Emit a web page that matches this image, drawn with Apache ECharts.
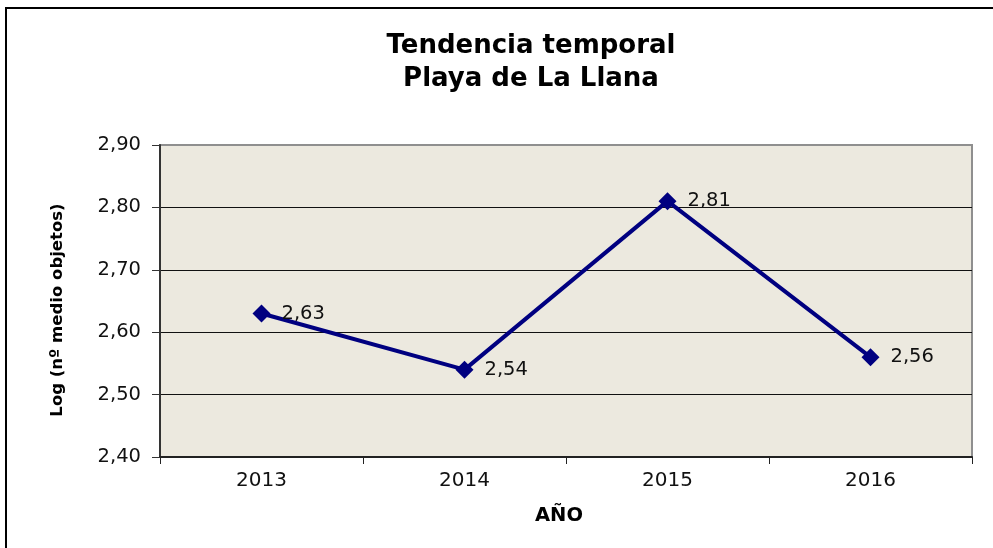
<!DOCTYPE html>
<html>
<head>
<meta charset="utf-8">
<script src="https://cdn.jsdelivr.net/npm/echarts@6/dist/echarts.min.js"></script>
<style>
  html, body { margin: 0; padding: 0; background: #fff; }
  #chart { width: 993px; height: 548px; }
</style>
</head>
<body>
<div id="chart"></div>
<script>
// Años y logaritmo del número medio de objetos
const years = ['2013', '2014', '2015', '2016'];
const logValues = [2.63, 2.54, 2.81, 2.56];
const yTicks = [2.40, 2.50, 2.60, 2.70, 2.80, 2.90];

const FONT = '"DejaVu Sans", Verdana, sans-serif';
const comma = v => v.toFixed(2).replace('.', ',');

const chart = echarts.init(document.getElementById('chart'), null, { renderer: 'canvas' });

chart.setOption({
  animation: false,
  backgroundColor: '#ffffff',
  textStyle: { fontFamily: FONT },
  title: {
    text: 'Tendencia temporal\nPlaya de La Llana',
    left: 526,
    top: 25,
    textAlign: 'center',
    textStyle: {
      fontFamily: FONT,
      fontSize: 26,
      fontWeight: 'bold',
      color: '#000',
      lineHeight: 33
    }
  },
  graphic: [
    {
      type: 'rect',
      shape: { x: 6, y: 8, width: 1000, height: 600 },
      style: { fill: 'none', stroke: '#000', lineWidth: 2 },
      silent: true
    }
  ],
  grid: {
    left: 160,
    top: 145,
    right: 21,
    bottom: 91,
    show: true,
    backgroundColor: '#ECE9DF',
    borderColor: '#8f8f8f',
    borderWidth: 2
  },
  xAxis: {
    type: 'category',
    data: years,
    boundaryGap: true,
    name: 'AÑO',
    nameLocation: 'middle',
    nameGap: 49,
    nameTextStyle: {
      fontFamily: FONT,
      fontSize: 19.5,
      fontWeight: 'bold',
      color: '#000',
      padding: [0, 14, 0, 0]
    },
    axisLine: { show: true, lineStyle: { color: '#222', width: 2 } },
    axisTick: { show: true, length: 7, alignWithLabel: false, lineStyle: { color: '#222', width: 1 } },
    axisLabel: { fontFamily: FONT, fontSize: 20, color: '#111', margin: 14 },
    splitLine: { show: false }
  },
  yAxis: {
    type: 'value',
    min: yTicks[0],
    max: yTicks[yTicks.length - 1],
    interval: 0.1,
    name: 'Log (nº medio objetos)',
    nameLocation: 'middle',
    nameRotate: 90,
    nameGap: 94,
    nameTextStyle: {
      fontFamily: FONT,
      fontSize: 16.5,
      fontWeight: 'bold',
      color: '#000',
      padding: [0, 18, 0, 0]
    },
    axisLine: { show: true, lineStyle: { color: '#333', width: 2 } },
    axisTick: { show: true, length: 8, lineStyle: { color: '#333', width: 1 } },
    axisLabel: {
      fontFamily: FONT,
      fontSize: 19.5,
      color: '#111',
      margin: 19,
      formatter: v => comma(v)
    },
    splitLine: { show: true, showMaxLine: false, lineStyle: { color: '#111', width: 1 } }
  },
  series: [
    {
      type: 'line',
      data: logValues,
      symbol: 'diamond',
      symbolSize: 18,
      lineStyle: { color: '#000080', width: 4 },
      itemStyle: { color: '#000080' },
      label: {
        show: true,
        position: 'right',
        distance: 11,
        fontFamily: FONT,
        fontSize: 19.5,
        color: '#111',
        formatter: p => comma(p.value)
      }
    }
  ]
});
</script>
</body>
</html>
